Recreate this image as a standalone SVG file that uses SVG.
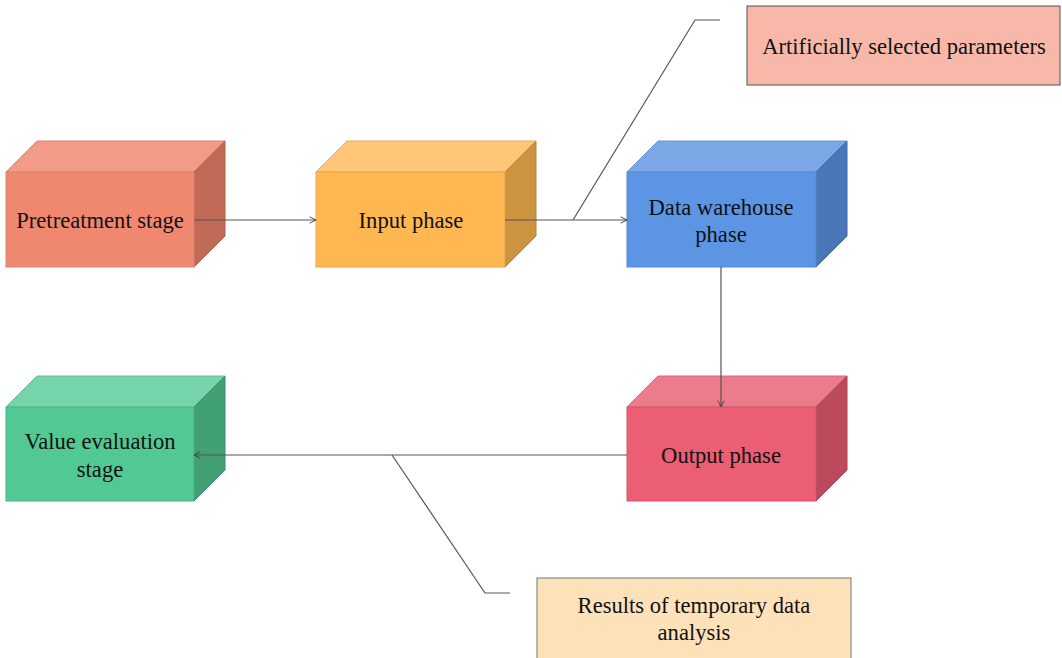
<svg xmlns="http://www.w3.org/2000/svg" width="1062" height="658" viewBox="0 0 1062 658">
<defs>
<style>
.t{font-family:"Liberation Serif","Times New Roman",serif;font-size:22.6px;fill:#111;text-anchor:middle}
.c{fill:none;stroke:#555;stroke-width:1.2}
.e{stroke-width:1}
</style>
<marker id="ar" viewBox="0 0 10 10" refX="9" refY="5" markerWidth="8" markerHeight="8" orient="auto" markerUnits="userSpaceOnUse">
<path d="M1,1 L9,5 L1,9" fill="none" stroke="#444" stroke-width="1.2"/>
</marker>
</defs>
<rect width="1062" height="658" fill="#fff"/>
<g id="pretreatment">
<polygon points="6,172 37,141 225,141 194,172" fill="#F29B87" stroke="#D98471" class="e"/>
<polygon points="194,172 225,141 225,236 194,267" fill="#C06A57" stroke="#B0604E" class="e"/>
<rect x="6" y="172" width="188" height="95" fill="#F08870" stroke="#D98471" class="e"/>
<text class="t" x="100" y="228">Pretreatment stage</text>
</g>
<g id="input">
<polygon points="316,172 347,141 536,141 505,172" fill="#FFC578" stroke="#E8AD5C" class="e"/>
<polygon points="505,172 536,141 536,236 505,267" fill="#CC9340" stroke="#B88438" class="e"/>
<rect x="316" y="172" width="189" height="95" fill="#FFB851" stroke="#E8A649" class="e"/>
<text class="t" x="411" y="228">Input phase</text>
</g>
<g id="warehouse">
<polygon points="627,172 658,141 847,141 816,172" fill="#7BA7E6" stroke="#6A95D4" class="e"/>
<polygon points="816,172 847,141 847,236 816,267" fill="#4A77B8" stroke="#426BA6" class="e"/>
<rect x="627" y="172" width="189" height="95" fill="#5C95E4" stroke="#5488D0" class="e"/>
<text class="t" x="721" y="215">Data warehouse</text>
<text class="t" x="721" y="242">phase</text>
</g>
<g id="output">
<polygon points="627,407 658,376 847,376 816,407" fill="#EC7B8B" stroke="#D86A7A" class="e"/>
<polygon points="816,407 847,376 847,470 816,501" fill="#BC4A5C" stroke="#A84353" class="e"/>
<rect x="627" y="407" width="189" height="94" fill="#EB5E73" stroke="#D65669" class="e"/>
<text class="t" x="721" y="463">Output phase</text>
</g>
<g id="value">
<polygon points="6,407 37,376 225,376 194,407" fill="#75D4A9" stroke="#62BF95" class="e"/>
<polygon points="194,407 225,376 225,470 194,501" fill="#42A075" stroke="#3A8F69" class="e"/>
<rect x="6" y="407" width="188" height="94" fill="#52C993" stroke="#4AB684" class="e"/>
<text class="t" x="100" y="449">Value evaluation</text>
<text class="t" x="100" y="477">stage</text>
</g>
<g id="params">
<rect x="747" y="6" width="313" height="79" fill="#F7B8A9" stroke="#555" stroke-width="1"/>
<text class="t" x="904" y="54">Artificially selected parameters</text>
</g>
<g id="results">
<rect x="537" y="578" width="314" height="82" fill="#FDE2B9" stroke="#777" stroke-width="1"/>
<text class="t" x="694" y="613">Results of temporary data</text>
<text class="t" x="694" y="640">analysis</text>
</g>
<g id="connectors">
<line class="c" x1="194" y1="220" x2="316" y2="220" marker-end="url(#ar)"/>
<line class="c" x1="505" y1="220" x2="627" y2="220" marker-end="url(#ar)"/>
<line class="c" x1="721" y1="267" x2="721" y2="407" marker-end="url(#ar)"/>
<line class="c" x1="627" y1="455" x2="194" y2="455" marker-end="url(#ar)" stroke="#888"/>
<polyline class="c" points="573,220 695,20 720,20"/>
<polyline class="c" points="392,455 485,593 510,593"/>
</g>
</svg>
